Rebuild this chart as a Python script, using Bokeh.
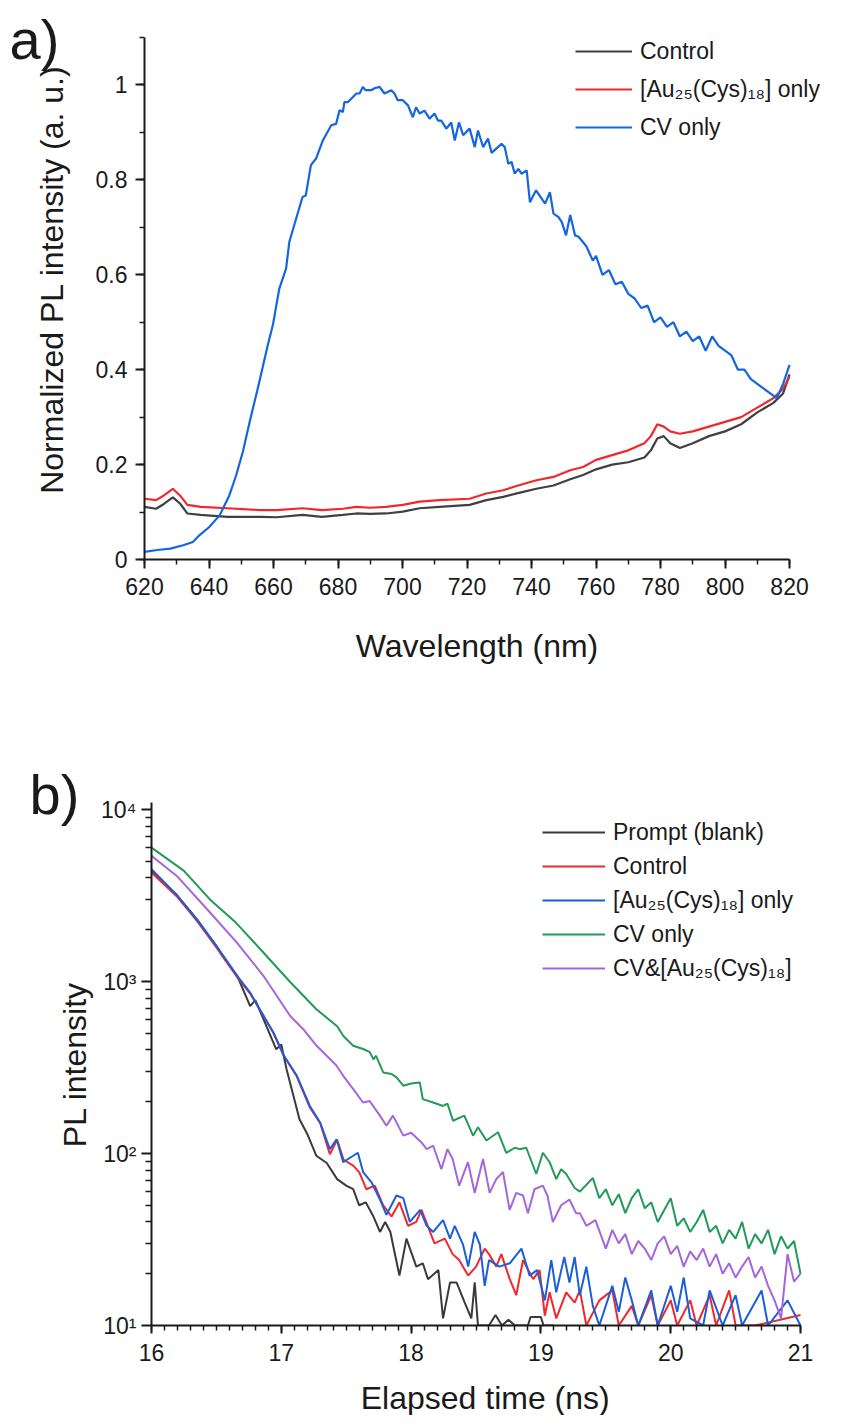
import math
from bokeh.plotting import figure
from bokeh.models import (Range1d, Legend, LegendItem, SingleIntervalTicker,
                          FixedTicker, CustomJSTickFormatter)
from bokeh.core.properties import value
from bokeh.layouts import column, row
from bokeh.embed import file_html
from bokeh.resources import INLINE

FONT = "Liberation Sans"
INK = "#1a1a1a"

# ---------------- Panel a: steady-state PL spectra ----------------
wl_cv = [620, 624, 628, 632, 635, 637, 640, 643.3, 646.3, 648.4, 650.5, 652.6, 655.1, 658.2,
         659.8, 661.8, 663.9, 664.9, 667, 669, 670, 671.6, 673.2, 675.3, 677.9, 679.4, 680.5,
         681.5, 682, 683.1, 685.7, 686.7, 687.7, 688.5, 690.3, 691.3, 692.9, 694.4, 696.5,
         697.5, 698.5, 700.1, 701.7, 703.2, 704.2, 705.3, 706.8, 708.4, 709.9, 711, 712, 713.6,
         715.1, 716.2, 717.5, 718.8, 720.8, 722.4, 723.4, 725, 726.5, 727.6, 730.7, 731.7,
         732.8, 733.8, 734.8, 735.9, 736.9, 738.5, 739.5, 741.4, 744.2, 745.7, 746.8, 748.3,
         749.4, 750.7, 752, 753.5, 754.6, 757, 759, 760, 762, 764, 766, 768, 770, 772, 774,
         776, 778, 780, 782, 784, 786, 788, 790, 792, 794, 796, 798, 800, 802, 804, 806, 808,
         810, 812, 814, 816, 818, 820]
pl_cv = [0.016, 0.02, 0.023, 0.03, 0.037, 0.051, 0.068, 0.093, 0.135, 0.177, 0.227, 0.29, 0.36,
         0.451, 0.494, 0.571, 0.613, 0.669, 0.718, 0.764, 0.767, 0.831, 0.845, 0.883, 0.915,
         0.918, 0.947, 0.943, 0.964, 0.964, 0.982, 0.982, 0.996, 0.989, 0.989, 0.993, 0.996,
         0.982, 0.989, 0.982, 0.968, 0.968, 0.957, 0.932, 0.953, 0.94, 0.946, 0.929, 0.94,
         0.925, 0.925, 0.908, 0.921, 0.883, 0.921, 0.894, 0.908, 0.869, 0.904, 0.869, 0.887,
         0.857, 0.876, 0.869, 0.834, 0.838, 0.813, 0.823, 0.813, 0.82, 0.753, 0.778, 0.75,
         0.774, 0.729, 0.722, 0.711, 0.683, 0.726, 0.683, 0.68, 0.66, 0.63, 0.64, 0.6, 0.61,
         0.58, 0.585, 0.56, 0.55, 0.53, 0.535, 0.5, 0.51, 0.49, 0.5, 0.47, 0.48, 0.46, 0.47,
         0.44, 0.47, 0.45, 0.44, 0.43, 0.4, 0.4, 0.38, 0.37, 0.36, 0.35, 0.34, 0.37, 0.41]

wl_ctrl = [620, 623.6, 626, 628.8, 631, 633.3, 637.4, 645.7, 656, 661, 669, 675, 681.5, 685.7,
           690, 694.9, 700.1, 705.3, 711.5, 720.8, 726, 731.2, 736.4, 741.5, 746.8, 752, 756,
           760, 765, 770, 775, 777, 779, 781, 783, 786, 790, 795, 800, 805, 810, 815, 818, 820]
pl_ctrl = [0.111, 0.107, 0.117, 0.131, 0.118, 0.097, 0.094, 0.09, 0.09, 0.089, 0.094, 0.09,
           0.094, 0.097, 0.096, 0.097, 0.101, 0.108, 0.111, 0.115, 0.125, 0.132, 0.141, 0.149,
           0.156, 0.169, 0.178, 0.19, 0.2, 0.205, 0.215, 0.23, 0.255, 0.26, 0.245, 0.235,
           0.245, 0.26, 0.27, 0.285, 0.31, 0.33, 0.35, 0.39]
pl_au = [0.128, 0.125, 0.135, 0.149, 0.135, 0.115, 0.111, 0.108, 0.104, 0.104, 0.108, 0.104,
         0.107, 0.111, 0.109, 0.111, 0.115, 0.122, 0.125, 0.128, 0.139, 0.146, 0.157, 0.167,
         0.174, 0.188, 0.195, 0.21, 0.22, 0.23, 0.245, 0.26, 0.285, 0.28, 0.27, 0.265, 0.27,
         0.28, 0.29, 0.3, 0.32, 0.34, 0.36, 0.385]

labels_a = ["Control", "[Au₂₅(Cys)₁₈] only", "CV only"]

# ---------------- Panel b: PL decay ----------------
t_prompt = [16.0, 16.2, 16.35, 16.5, 16.55, 16.66, 16.76, 16.8, 16.86, 16.96, 17.0, 17.04,
            17.14, 17.2, 17.27, 17.35, 17.43, 17.5, 17.554, 17.6, 17.65, 17.71, 17.76, 17.8,
            17.84, 17.91, 17.964, 18.04, 18.09, 18.13, 18.21, 18.246, 18.3, 18.35, 18.413,
            18.464, 18.49, 18.515, 18.6, 18.65, 18.7, 18.75, 18.8, 18.9, 18.92, 19.0, 19.02, 19.1]
i_prompt = [4400, 3150, 2300, 1600, 1400, 1080, 720, 780, 610, 404, 430, 310, 158, 130, 97, 88,
            71, 65, 62, 50, 52, 43, 35, 40, 35, 19.5, 32, 22, 23, 18.6, 21, 11, 17.8, 17.8,
            13.6, 11, 17.8, 10, 10, 11.5, 10, 10.8, 10, 10, 11.2, 11.2, 10, 10]

t_ctrl = [16.0, 16.2, 16.35, 16.5, 16.66, 16.76, 16.86, 16.94, 17.02, 17.12, 17.22, 17.3,
          17.374, 17.43, 17.48, 17.554, 17.6, 17.655, 17.72, 17.785, 17.85, 17.91, 17.977,
          18.04, 18.08, 18.14, 18.18, 18.26, 18.32, 18.37, 18.44, 18.5, 18.567, 18.6, 18.656,
          18.695, 18.76, 18.81, 18.862, 18.94, 18.99, 19.03, 19.067, 19.118, 19.195, 19.26,
          19.3, 19.35, 19.45, 19.55, 19.6, 19.7, 19.75, 19.85, 19.9, 20.0, 20.05, 20.15, 20.2,
          20.3, 20.35, 20.45, 20.5, 20.6, 20.65, 21.0]
i_ctrl = [4300, 3100, 2250, 1580, 1060, 850, 640, 500, 370, 280, 185, 150, 99, 120, 92, 85, 78,
          62, 65, 50, 43, 52, 38, 40, 47, 36, 30, 32, 26, 24, 19.5, 22, 28, 26, 22, 26, 18.6,
          15, 24, 18.6, 21, 11.4, 15.6, 11, 15.6, 13.6, 16, 10, 14, 16, 10, 13, 10, 15, 10, 14,
          10, 14, 10, 15, 10, 16, 10, 10, 10, 11.5]

t_au = [16.0, 16.2, 16.35, 16.5, 16.66, 16.76, 16.86, 16.94, 17.02, 17.12, 17.22, 17.3, 17.374,
        17.426, 17.477, 17.554, 17.59, 17.63, 17.695, 17.76, 17.81, 17.887, 17.94, 17.99,
        18.07, 18.12, 18.17, 18.246, 18.3, 18.336, 18.4, 18.44, 18.49, 18.53, 18.567, 18.6,
        18.68, 18.76, 18.85, 18.913, 18.97, 19.03, 19.08, 19.118, 19.18, 19.22, 19.26, 19.3,
        19.35, 19.4, 19.45, 19.55, 19.6, 19.65, 19.7, 19.75, 19.85, 19.9, 20.0, 20.05, 20.1,
        20.15, 20.25, 20.3, 20.4, 20.5, 20.55, 20.7, 20.75, 20.9, 21.0]
i_au = [4500, 3150, 2300, 1610, 1080, 863, 632, 505, 370, 283, 189, 151, 106, 121, 89, 97, 101,
        78, 68, 54, 44, 57, 55, 40, 47, 38, 35, 41, 32, 38, 29.5, 22, 35, 29.5, 17, 24, 22, 23,
        28, 19.5, 21, 14, 24, 15.6, 25, 17.8, 25, 15, 22, 13, 10, 17, 12, 19, 14, 10, 16, 10,
        17, 12, 19, 11, 10, 16, 10, 15, 10, 16, 10, 14, 10]

t_cv = [16.0, 16.1, 16.25, 16.45, 16.65, 16.86, 17.07, 17.27, 17.43, 17.48, 17.554, 17.63,
        17.68, 17.71, 17.73, 17.785, 17.85, 17.887, 17.94, 18.0, 18.067, 18.09, 18.17, 18.246,
        18.28, 18.323, 18.41, 18.477, 18.515, 18.58, 18.67, 18.733, 18.8, 18.836, 18.887,
        18.964, 19.015, 19.067, 19.118, 19.156, 19.195, 19.26, 19.3, 19.4, 19.45, 19.5, 19.55,
        19.6, 19.65, 19.7, 19.75, 19.8, 19.85, 19.9, 19.95, 20.0, 20.05, 20.1, 20.15, 20.2,
        20.25, 20.3, 20.35, 20.4, 20.45, 20.5, 20.55, 20.6, 20.65, 20.7, 20.75, 20.8, 20.85,
        20.9, 20.95, 21.0]
i_cv = [6000, 5300, 4400, 3000, 2200, 1480, 990, 690, 550, 480, 423, 405, 390, 353, 370, 296,
        290, 277, 248, 255, 259, 207, 198, 189, 195, 155, 166, 127, 142, 119, 133, 101, 108,
        106, 108, 76, 101, 89, 71, 81, 76, 63, 60, 72, 55, 62, 50, 58, 45, 55, 62, 48, 52, 40,
        47, 55, 38, 42, 35, 40, 47, 35, 38, 30, 36, 32, 40, 28, 34, 30, 36, 26, 33, 28, 31, 20]

t_cvau = [16.0, 16.195, 16.451, 16.656, 16.862, 17.067, 17.169, 17.272, 17.426, 17.477, 17.554,
          17.63, 17.68, 17.76, 17.81, 17.86, 17.94, 18.0, 18.08, 18.12, 18.17, 18.233, 18.28,
          18.32, 18.37, 18.438, 18.49, 18.554, 18.605, 18.656, 18.708, 18.759, 18.81, 18.862,
          18.9, 18.95, 19.015, 19.05, 19.092, 19.156, 19.22, 19.27, 19.3, 19.35, 19.42, 19.5,
          19.55, 19.6, 19.65, 19.7, 19.75, 19.8, 19.85, 19.9, 19.95, 20.0, 20.05, 20.1, 20.15,
          20.2, 20.25, 20.3, 20.35, 20.4, 20.45, 20.5, 20.55, 20.6, 20.65, 20.7, 20.75, 20.8,
          20.85, 20.9, 20.95, 21.0]
i_cvau = [5380, 4110, 2520, 1690, 1080, 632, 528, 423, 324, 283, 237, 198, 202, 166, 145, 166,
          127, 132, 116, 106, 111, 81, 106, 93, 65, 89, 59, 93, 59, 71, 78, 47, 59, 57, 45, 62,
          65, 57, 40, 50, 54, 45, 45, 38, 41, 28, 36, 30, 34, 26, 31, 28, 24, 30, 33, 26, 29,
          22, 27, 24, 28, 22, 26, 20, 23, 19, 22, 25, 19, 22, 17, 14, 11, 26, 18, 20]

labels_b = ["Prompt (blank)", "Control", "[Au₂₅(Cys)₁₈] only", "CV only", "CV&[Au₂₅(Cys)₁₈]"]

# ---------------- helpers ----------------
def style_axis(ax, tick_out=9, minor_out=5, label_standoff=9):
    ax.axis_line_width = 2
    ax.axis_line_color = INK
    ax.major_tick_line_width = 2
    ax.major_tick_line_color = INK
    ax.minor_tick_line_width = 1.5
    ax.minor_tick_line_color = INK
    ax.major_tick_in = 0
    ax.major_tick_out = tick_out
    ax.minor_tick_in = 0
    ax.minor_tick_out = minor_out
    ax.major_label_text_font = FONT
    ax.major_label_text_font_size = "23px"
    ax.major_label_text_color = INK
    ax.major_label_standoff = label_standoff


def base_fig(**kw):
    p = figure(output_backend="svg", toolbar_location=None, **kw)
    p.outline_line_color = None
    p.xgrid.visible = False
    p.ygrid.visible = False
    p.background_fill_color = "white"
    p.border_fill_color = "white"
    return p


def text_fig(w, h):
    # blank strip whose data units equal pixels, used for panel letters and axis titles
    f = figure(width=w, height=h, x_range=Range1d(0, w), y_range=Range1d(0, h),
               output_backend="svg", toolbar_location=None, x_axis_location=None,
               y_axis_location=None, min_border=0, min_border_left=0, min_border_right=0,
               min_border_top=0, min_border_bottom=0)
    f.outline_line_color = None
    f.grid.visible = False
    f.background_fill_color = "white"
    f.border_fill_color = "white"
    return f


def put_text(f, x, y, s, size, angle=0.0, align="left", baseline="alphabetic"):
    f.text(x=[x], y=[y], text=[s], angle=angle, text_font=value(FONT),
           text_font_size=value(size), text_align=align, text_baseline=baseline,
           text_color=INK)

# ---------------- panel a ----------------
pa = base_fig(width=758, height=607, x_range=Range1d(620, 838.9), y_range=Range1d(0, 1.178),
              min_border_left=52, min_border_right=0, min_border_top=0, min_border_bottom=48)
ra1 = pa.line(wl_ctrl, pl_ctrl, line_color="#404040", line_width=2.2)
ra2 = pa.line(wl_ctrl, pl_au, line_color="#f0282d", line_width=2.2)
ra3 = pa.line(wl_cv, pl_cv, line_color="#1565e0", line_width=2.2)

pa.xaxis.ticker = SingleIntervalTicker(interval=20, num_minor_ticks=2)
pa.yaxis.ticker = SingleIntervalTicker(interval=0.2, num_minor_ticks=2)
pa.xaxis.bounds = (620, 820)
pa.yaxis.bounds = (0, 1.1)
pa.yaxis.formatter = CustomJSTickFormatter(code="return String(Number(tick.toFixed(1)));")
style_axis(pa.xaxis[0], label_standoff=9)
style_axis(pa.yaxis[0], label_standoff=8)

leg_a = Legend(items=[LegendItem(label=labels_a[0], renderers=[ra1]),
                      LegendItem(label=labels_a[1], renderers=[ra2]),
                      LegendItem(label=labels_a[2], renderers=[ra3])],
               location=(431, 417), padding=0, margin=0, spacing=8,
               label_height=30, glyph_height=30, glyph_width=57, label_standoff=8,
               label_text_font=FONT, label_text_font_size="23px", label_text_color=INK,
               background_fill_alpha=0, border_line_alpha=0)
pa.add_layout(leg_a)

left_a = text_fig(92, 690)
put_text(left_a, 9, 651, "a)", "56px")
put_text(left_a, 51, 411, "Normalized PL intensity (a. u.)", "32px", angle=math.pi / 2,
         align="center", baseline="middle")
bottom_a = text_fig(758, 83)
put_text(bottom_a, 357, 45, "Wavelength (nm)", "32px", align="center")

# ---------------- panel b ----------------
pb = base_fig(width=752, height=683, x_range=Range1d(16, 21.385), y_range=Range1d(10, 49200),
              y_axis_type="log", min_border_left=52, min_border_right=0,
              min_border_top=0, min_border_bottom=48)
rb1 = pb.line(t_prompt, i_prompt, line_color="#3a3a3a", line_width=2)
rb2 = pb.line(t_ctrl, i_ctrl, line_color="#f0282d", line_width=2)
rb3 = pb.line(t_au, i_au, line_color="#1b5fd8", line_width=2)
rb4 = pb.line(t_cv, i_cv, line_color="#229a58", line_width=2)
rb5 = pb.line(t_cvau, i_cvau, line_color="#a566dc", line_width=2)

pb.xaxis.ticker = SingleIntervalTicker(interval=1, num_minor_ticks=10)
major_dec = [10, 100, 1000, 10000]
minor_dec = [m * d for d in [10, 100, 1000] for m in range(2, 10)]
pb.yaxis.ticker = FixedTicker(ticks=major_dec, minor_ticks=minor_dec)
pb.yaxis.major_label_overrides = {10: "10¹", 100: "10²", 1000: "10³", 10000: "10⁴"}
pb.xaxis.bounds = (16, 21)
pb.yaxis.bounds = (10, 11000)
style_axis(pb.xaxis[0], tick_out=8, minor_out=5, label_standoff=10)
style_axis(pb.yaxis[0], tick_out=10, minor_out=6, label_standoff=5)

leg_b = Legend(items=[LegendItem(label=labels_b[0], renderers=[rb1]),
                      LegendItem(label=labels_b[1], renderers=[rb2]),
                      LegendItem(label=labels_b[2], renderers=[rb3]),
                      LegendItem(label=labels_b[3], renderers=[rb4]),
                      LegendItem(label=labels_b[4], renderers=[rb5])],
               location=(391, 343), padding=0, margin=0, spacing=6,
               label_height=28, glyph_height=28, glyph_width=63, label_standoff=8,
               label_text_font=FONT, label_text_font_size="23px", label_text_color=INK,
               background_fill_alpha=0, border_line_alpha=0)
pb.add_layout(leg_b)

left_b = text_fig(98, 725)
put_text(left_b, 29, 621, "b)", "56px")
put_text(left_b, 74, 351, "PL intensity", "32px", angle=math.pi / 2,
         align="center", baseline="middle")
bottom_b = text_fig(752, 42)
put_text(bottom_b, 359, 18, "Elapsed time (ns)", "32px", align="center")

layout = column(row(left_a, column(pa, bottom_a)),
                row(left_b, column(pb, bottom_b)))
open("out.html", "w").write(file_html(layout, INLINE))
